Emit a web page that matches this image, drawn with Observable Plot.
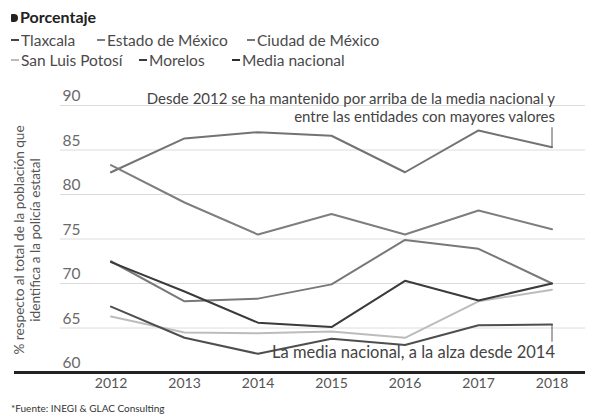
<!DOCTYPE html>
<html>
<head>
<meta charset="utf-8">
<script src="https://cdn.jsdelivr.net/npm/d3@7"></script>
<script src="https://cdn.jsdelivr.net/npm/@observablehq/plot@0.6"></script>
<style>
  html, body { margin: 0; padding: 0; background: #fff; }
  body { width: 596px; height: 418px; overflow: hidden; font-family: Lato, "Open Sans", sans-serif; color: #444; }
  #title { box-sizing: border-box; height: 28px; padding: 7px 0 0 11px; line-height: 20px; font-size: 16px; font-weight: 700; color: #222; }
  #title .mark { display: inline-block; width: 7px; height: 8px; background: #222; border-radius: 1px 4px 4px 1px; margin-right: 2px; vertical-align: 1px; }
  #legend { margin-top: 2px; height: 45px; }
  .row { position: relative; height: 20px; line-height: 20px; font-size: 15.5px; white-space: nowrap; }
  .item { position: absolute; top: 0; color: #4a4a4a; }
  .r0 .item:nth-child(1) { left: 11px; }
  .r0 .item:nth-child(2) { left: 97px; }
  .r0 .item:nth-child(3) { left: 247px; }
  .r1 .item:nth-child(1) { left: 11px; }
  .r1 .item:nth-child(2) { left: 139px; }
  .r1 .item:nth-child(3) { left: 232px; }
  .dash { display: inline-block; width: 8px; height: 2px; vertical-align: 5px; margin-right: 2px; }
  #chart { height: 320px; }
  #footer { margin-top: 6px; padding-left: 11px; font-size: 10px; line-height: 14px; color: #333; }
</style>
</head>
<body>
<div id="title"><span class="mark"></span>Porcentaje</div>
<div id="legend"></div>
<div id="chart"></div>
<div id="footer">*Fuente: INEGI &amp; GLAC Consulting</div>
<script>
const years = [2012, 2013, 2014, 2015, 2016, 2017, 2018];
const seriesNames = ["Tlaxcala", "Estado de México", "Ciudad de México", "San Luis Potosí", "Morelos", "Media nacional"];
const seriesColors = ["#737373", "#7e7e7e", "#787878", "#bcbcbc", "#3a3a3a", "#4e4e4e"];
const legendColors = ["#444444", "#7e7e7e", "#787878", "#bcbcbc", "#3a3a3a", "#2e2e2e"];
const tlaxcala      = [82.5, 86.3, 87.0, 86.6, 82.5, 87.2, 85.3];
const estadoMexico  = [83.3, 79.1, 75.5, 77.8, 75.5, 78.2, 76.1];
const ciudadMexico  = [72.5, 68.0, 68.3, 69.9, 74.9, 73.9, 70.0];
const sanLuisPotosi = [66.3, 64.5, 64.4, 64.6, 63.9, 68.0, 69.3];
const morelos       = [72.4, 69.1, 65.6, 65.1, 70.3, 68.1, 70.0];
const mediaNacional = [67.4, 63.9, 62.1, 63.8, 63.1, 65.3, 65.4];
const yTicks = [60, 65, 70, 75, 80, 85, 90];
const gridTicks = [65, 70, 75, 80, 85, 90];
const yLabel = "% respecto al total de la población que\nidentifica a la policía estatal";
const topNote = ["Desde 2012 se ha mantenido por arriba de la media nacional y", "entre las entidades con mayores valores"];
const topNoteY = [90.7, 88.65];
const topConnector = [85.3, 87.5];
const bottomNote = ["La media nacional, a la alza desde 2014"];
const bottomNoteY = [62.2];
const bottomConnector = [65.4, 63.4];

const allValues = [tlaxcala, estadoMexico, ciudadMexico, sanLuisPotosi, morelos, mediaNacional];
const data = [];
seriesNames.forEach((s, i) => years.forEach((y, j) => data.push({series: s, year: y, value: allValues[i][j]})));

// legend
const legend = document.getElementById("legend");
const rows = [seriesNames.slice(0, 3), seriesNames.slice(3)];
rows.forEach((r, k) => {
  const row = document.createElement("div");
  row.className = "row r" + k;
  r.forEach(name => {
    const i = seriesNames.indexOf(name);
    const it = document.createElement("span");
    it.className = "item";
    it.innerHTML = `<span class="dash" style="background:${legendColors[i]}"></span>${name}`;
    row.appendChild(it);
  });
  legend.appendChild(row);
});

const xRange = [110.5, 551.5];
const xs = Plot.scale({x: {type: "linear", domain: [2012, 2018], range: xRange}});
const gridStart = xs.invert(60);
const gridEnd = xs.invert(585);
const baseStart = xs.invert(14);

const chart = Plot.plot({
  width: 596,
  height: 320,
  marginTop: 30,
  marginBottom: 23,
  marginLeft: 14,
  marginRight: 11,
  style: {fontFamily: "Lato, 'Open Sans', sans-serif", fontSize: "14px", color: "#555", background: "#fff"},
  x: {type: "linear", domain: [2012, 2018], range: xRange, ticks: years, tickFormat: d => String(d), tickSize: 0, tickPadding: 6, label: null},
  y: {domain: [60, 90], axis: null},
  color: {domain: seriesNames, range: seriesColors},
  marks: [
    Plot.ruleY(gridTicks, {y: d => d, x1: gridStart, x2: gridEnd, stroke: "#dcdcdc", strokeWidth: 1}),
    Plot.text(yTicks, {x: gridStart, y: d => d, text: d => String(d), textAnchor: "start", dx: 2, dy: -9, fontSize: 15.5, fill: "#6a6a6a"}),
    Plot.text([yLabel], {frameAnchor: "left", text: d => d, rotate: -90, textAnchor: "middle", dx: 12, dy: 1, fontSize: 13.6, fill: "#555", lineHeight: 1.2}),
    Plot.line(data, {x: "year", y: "value", z: "series", stroke: "series", strokeWidth: 2}),
    Plot.ruleX([2018], {y1: topConnector[0], y2: topConnector[1], stroke: "#555", strokeWidth: 1}),
    Plot.ruleX([2018], {y1: bottomConnector[0], y2: bottomConnector[1], stroke: "#555", strokeWidth: 1}),
    Plot.text(topNote, {x: 2018, y: (d, i) => topNoteY[i], text: d => d, textAnchor: "end", dx: 3, fontSize: 15, fill: "#444"}),
    Plot.text(bottomNote, {x: 2018, y: (d, i) => bottomNoteY[i], text: d => d, textAnchor: "end", dx: 3, fontSize: 16.5, fill: "#444"}),
    Plot.ruleY([60], {x1: baseStart, x2: gridEnd, stroke: "#222", strokeWidth: 3})
  ]
});
document.getElementById("chart").appendChild(chart);
</script>
</body>
</html>
